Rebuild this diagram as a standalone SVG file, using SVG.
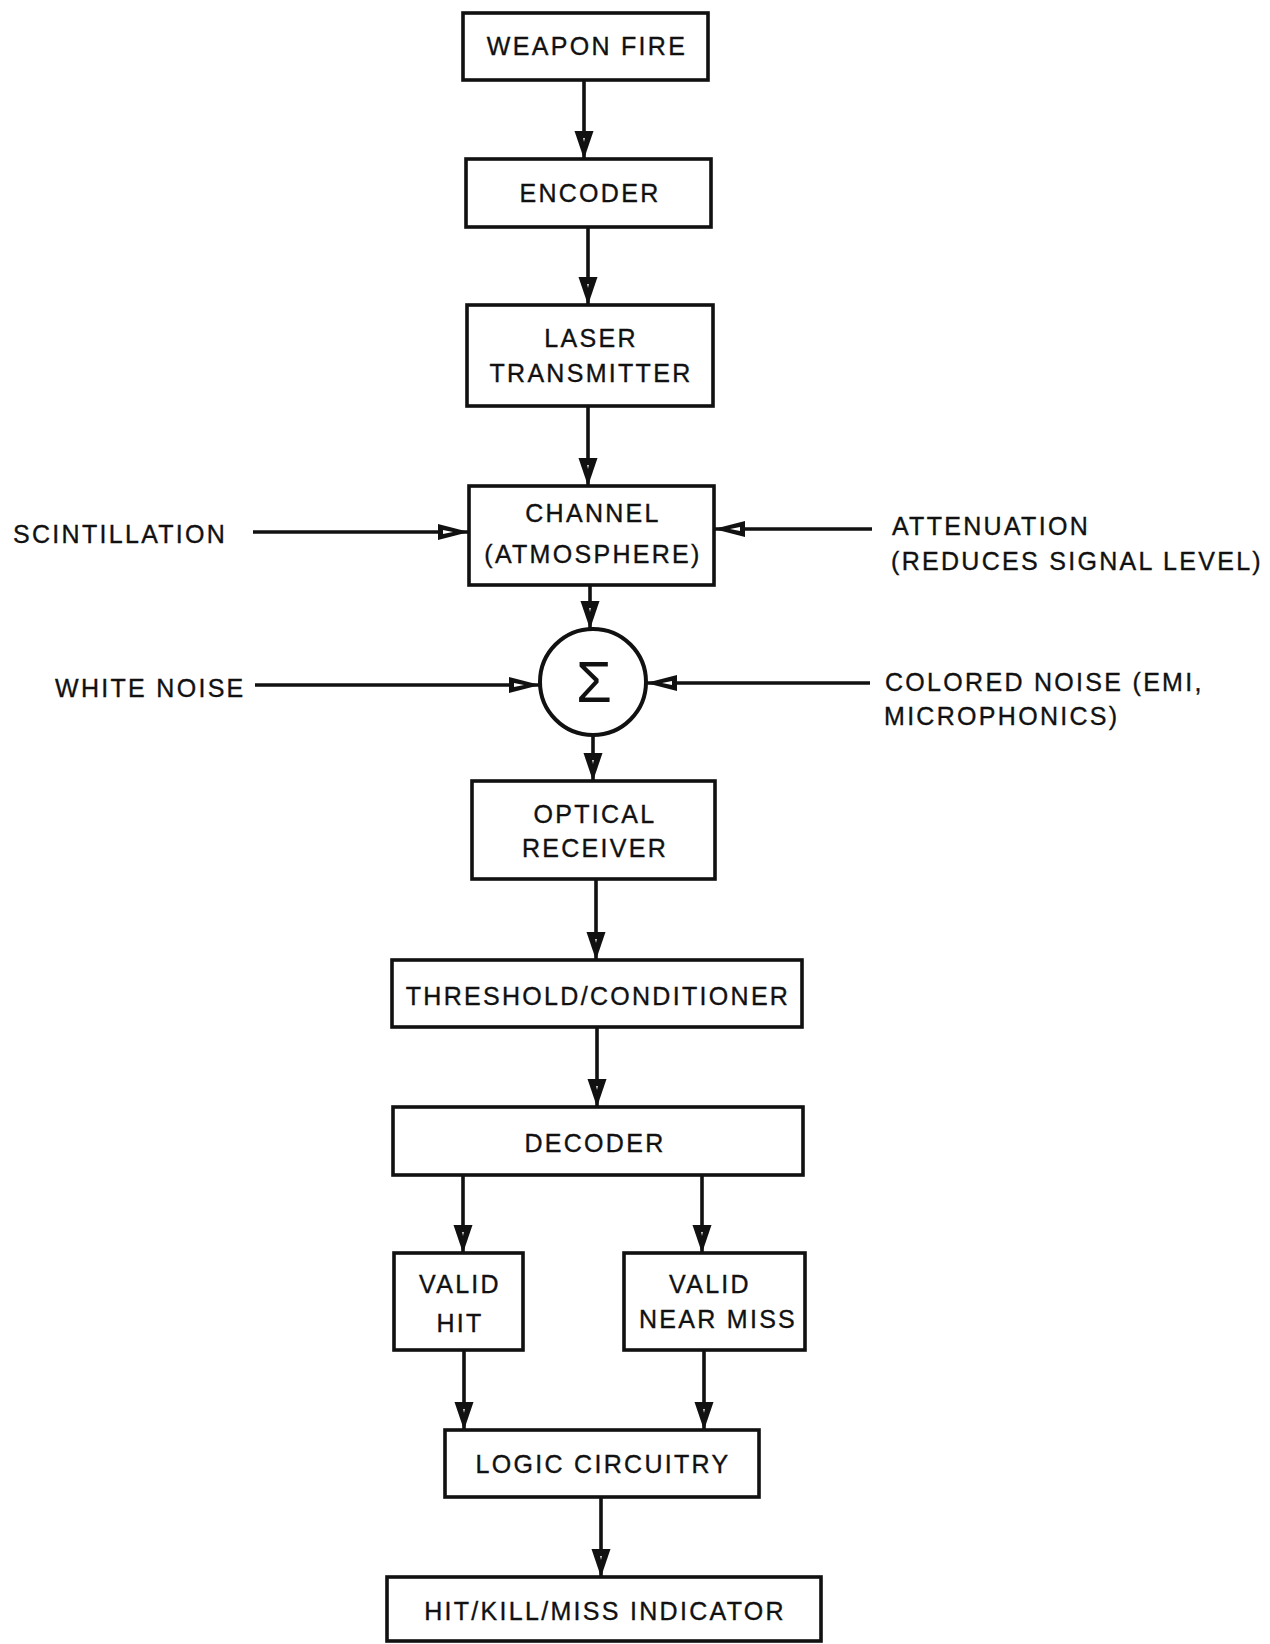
<svg xmlns="http://www.w3.org/2000/svg" width="1270" height="1644" viewBox="0 0 1270 1644">
<style>
.box{fill:none;stroke:#111;stroke-width:3.6}
.t{font-family:"Liberation Sans",Arial,sans-serif;font-size:25px;letter-spacing:2.3px;fill:#111;stroke:#111;stroke-width:0.35}
.c{text-anchor:middle}
.ln{stroke:#111;stroke-width:3.6;fill:none}
.v{marker-end:url(#av)}
.h{marker-end:url(#ah)}
</style>
<defs>
<marker id="av" markerUnits="userSpaceOnUse" viewBox="0 0 30 20" markerWidth="30" markerHeight="20" refX="28" refY="10" orient="auto">
<path d="M0,0.5 L28,10 L0,19.5 Z" fill="#111"/>
<path d="M7,9.2 L11,10 L7,10.8 Z" fill="#fff"/>
</marker>
<marker id="ah" markerUnits="userSpaceOnUse" viewBox="0 0 32 18" markerWidth="32" markerHeight="18" refX="31" refY="9" orient="auto">
<path d="M0,1 L31,9 L0,17 Z" fill="#111"/>
<path d="M5,7 L15,9 L5,11 Z" fill="#fff"/>
</marker>
</defs>

<g id="connectors">
<line class="ln v" x1="584" y1="80" x2="584" y2="159"/>
<line class="ln v" x1="588" y1="227" x2="588" y2="305"/>
<line class="ln v" x1="588" y1="406" x2="588" y2="486"/>
<line class="ln v" x1="590" y1="585" x2="590" y2="629"/>
<line class="ln v" x1="593" y1="735" x2="593" y2="781"/>
<line class="ln v" x1="596" y1="879" x2="596" y2="960"/>
<line class="ln v" x1="597" y1="1027" x2="597" y2="1107"/>
<line class="ln v" x1="463" y1="1175" x2="463" y2="1253"/>
<line class="ln v" x1="702" y1="1175" x2="702" y2="1253"/>
<line class="ln v" x1="464" y1="1350" x2="464" y2="1430"/>
<line class="ln v" x1="704" y1="1350" x2="704" y2="1430"/>
<line class="ln v" x1="601" y1="1497" x2="601" y2="1577"/>
<line class="ln h" x1="253" y1="532" x2="469" y2="532"/>
<line class="ln h" x1="872" y1="529" x2="714" y2="529"/>
<line class="ln h" x1="255" y1="685" x2="540" y2="685"/>
<line class="ln h" x1="870" y1="683" x2="646" y2="683"/>
</g>

<g id="weapon_fire">
<rect class="box" x="463" y="13" width="245" height="67"/>
<text class="t c" x="587" y="55">WEAPON FIRE</text>
</g>
<g id="encoder">
<rect class="box" x="466" y="159" width="245" height="68"/>
<text class="t c" x="590" y="202">ENCODER</text>
</g>
<g id="laser_transmitter">
<rect class="box" x="467" y="305" width="246" height="101"/>
<text class="t c" x="591" y="347">LASER</text>
<text class="t c" x="591" y="382">TRANSMITTER</text>
</g>
<g id="channel">
<rect class="box" x="469" y="486" width="245" height="99"/>
<text class="t c" x="593" y="522">CHANNEL</text>
<text class="t c" x="593" y="563">(ATMOSPHERE)</text>
</g>
<g id="sum">
<circle cx="593" cy="682" r="53" fill="none" stroke="#111" stroke-width="4"/>
<text x="594" y="702" text-anchor="middle" font-family="Liberation Sans, Arial, sans-serif" font-size="58" fill="#111">Σ</text>
</g>
<g id="scintillation">
<text class="t" x="13" y="543" letter-spacing="2.8">SCINTILLATION</text>
</g>
<g id="attenuation">
<text class="t" x="892" y="535">ATTENUATION</text>
<text class="t" x="891" y="570">(REDUCES SIGNAL LEVEL)</text>
</g>
<g id="white_noise">
<text class="t" x="55" y="697" letter-spacing="1.9">WHITE NOISE</text>
</g>
<g id="colored_noise">
<text class="t" x="885" y="691">COLORED NOISE (EMI,</text>
<text class="t" x="884" y="725">MICROPHONICS)</text>
</g>
<g id="optical_receiver">
<rect class="box" x="472" y="781" width="243" height="98"/>
<text class="t c" x="595" y="823">OPTICAL</text>
<text class="t c" x="595" y="857">RECEIVER</text>
</g>
<g id="threshold">
<rect class="box" x="392" y="960" width="410" height="67"/>
<text class="t c" x="598" y="1005">THRESHOLD/CONDITIONER</text>
</g>
<g id="decoder">
<rect class="box" x="393" y="1107" width="410" height="68"/>
<text class="t c" x="595" y="1152">DECODER</text>
</g>
<g id="valid_hit">
<rect class="box" x="394" y="1253" width="129" height="97"/>
<text class="t c" x="460" y="1293">VALID</text>
<text class="t c" x="460" y="1332">HIT</text>
</g>
<g id="valid_near_miss">
<rect class="box" x="624" y="1253" width="181" height="97"/>
<text class="t c" x="710" y="1293">VALID</text>
<text class="t c" x="718" y="1328">NEAR MISS</text>
</g>
<g id="logic_circuitry">
<rect class="box" x="445" y="1430" width="314" height="67"/>
<text class="t c" x="603" y="1473">LOGIC CIRCUITRY</text>
</g>
<g id="indicator">
<rect class="box" x="387" y="1577" width="434" height="64"/>
<text class="t c" x="605" y="1620">HIT/KILL/MISS INDICATOR</text>
</g>
</svg>
